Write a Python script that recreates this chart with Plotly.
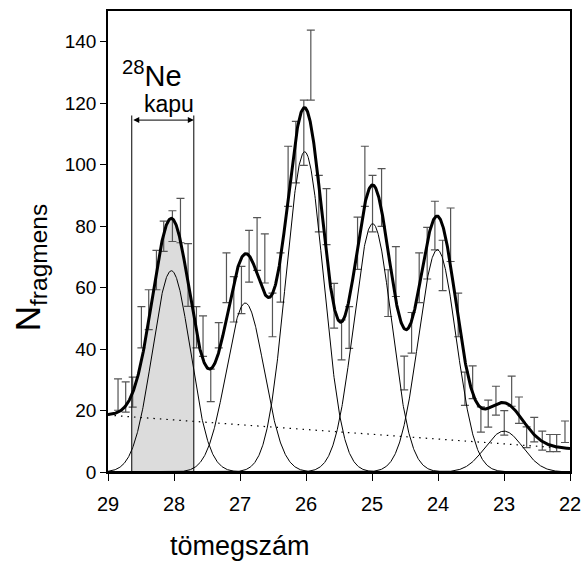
import numpy as np
import plotly.graph_objects as go

# ---- data ----
mass = [28.848, 28.732, 28.626, 28.494, 28.383, 28.266, 28.156, 28.024, 27.902, 27.787,
        27.660, 27.560, 27.443, 27.322, 27.205, 27.094, 26.978, 26.862, 26.741, 26.624,
        26.508, 26.386, 26.271, 26.154, 26.033, 25.927, 25.806, 25.689, 25.574, 25.461,
        25.346, 25.219, 25.108, 24.992, 24.855, 24.755, 24.638, 24.512, 24.400, 24.285,
        24.164, 24.047, 23.930, 23.809, 23.694, 23.592, 23.475, 23.350, 23.239, 23.122,
        22.996, 22.884, 22.773, 22.657, 22.542, 22.420, 22.304, 22.202, 22.076]
counts = [25.2, 24.4, 26.0, 47.1, 52.8, 65.7, 76.7, 80.0, 81.8, 64.1,
          47.1, 44.2, 28.2, 44.5, 63.2, 56.2, 59.2, 70.2, 74.2, 69.5,
          51.1, 63.3, 96.2, 104.1, 110.4, 132.4, 87.3, 83.1, 54.1, 43.0,
          47.0, 74.4, 96.2, 87.3, 89.3, 58.2, 65.2, 32.2, 45.3, 63.2,
          71.2, 80.2, 67.2, 77.2, 51.1, 27.1, 29.2, 17.1, 19.0, 23.2,
          16.0, 26.3, 20.1, 11.3, 13.8, 10.2, 9.4, 9.4, 13.1]
errors = [5.1, 4.9, 4.9, 6.7, 6.5, 6.4, 4.9, 5.0, 7.2, 10.2,
          6.7, 6.6, 5.3, 4.1, 8.1, 7.4, 7.7, 8.4, 8.6, 8.0,
          7.1, 8.0, 9.8, 10.0, 10.6, 11.4, 9.2, 9.1, 7.3, 6.5,
          6.8, 8.5, 9.8, 9.2, 9.4, 7.6, 8.1, 5.5, 6.6, 8.1,
          8.4, 7.9, 8.2, 8.7, 7.1, 5.4, 5.3, 4.1, 4.4, 4.7,
          4.0, 4.9, 4.3, 3.4, 4.0, 3.1, 2.8, 2.8, 3.5]

# fitted peak components
peak_centers = [28.04, 26.92, 26.02, 24.99, 24.01, 23.00]
peak_heights = [65.5, 55.0, 104.2, 80.8, 72.3, 13.3]
peak_sigmas = [0.285, 0.285, 0.285, 0.285, 0.285, 0.285]
bg_x = [29.0, 22.0]
bg_y = [18.5, 7.6]

gate = [28.64, 27.70]
gate_top = 116.0
arrow_y = 114.5

x_ticks = [29, 28, 27, 26, 25, 24, 23, 22]
y_ticks = [0, 20, 40, 60, 80, 100, 120, 140]

FONT = "Liberation Sans, Arial, sans-serif"

# ---- model curves ----
xg = np.linspace(29.0, 22.0, 1401)


def model(x):
    b = np.interp(x, bg_x[::-1], bg_y[::-1])
    cs = [h * np.exp(-(x - c) ** 2 / (2 * s ** 2))
          for c, h, s in zip(peak_centers, peak_heights, peak_sigmas)]
    return b, cs


bg, comps = model(xg)
total = bg + np.sum(comps, axis=0)

fig = go.Figure()

# shaded gate area under the total curve
gx = np.concatenate(([gate[0]], xg[(xg < gate[0]) & (xg > gate[1])], [gate[1]]))
gb, gc = model(gx)
gtot = gb + np.sum(gc, axis=0)
fig.add_trace(go.Scatter(x=gx, y=gtot, mode="lines", fill="tozeroy",
                         fillcolor="#dcdcdc", line=dict(width=0), hoverinfo="skip"))

# error bars
fig.add_trace(go.Scatter(x=mass, y=counts, mode="markers",
                         marker=dict(size=1, color="rgba(0,0,0,0)"),
                         error_y=dict(type="data", array=errors, color="#555555",
                                      thickness=1.2, width=4)))

# background
fig.add_trace(go.Scatter(x=bg_x, y=bg_y, mode="lines",
                         line=dict(color="black", width=1.2, dash="1.5px,5px")))
# components
for comp in comps:
    fig.add_trace(go.Scatter(x=xg, y=comp, mode="lines",
                             line=dict(color="black", width=1)))
# total
fig.add_trace(go.Scatter(x=xg, y=total, mode="lines",
                         line=dict(color="black", width=3)))

# gate lines
for g in gate:
    fig.add_shape(type="line", x0=g, x1=g, y0=0, y1=gate_top, xref="x", yref="y",
                  line=dict(color="black", width=1))

fig.add_annotation(x=gate[1], y=arrow_y, ax=gate[0], ay=arrow_y, xref="x", yref="y",
                   axref="x", ayref="y", text="", showarrow=True, arrowside="end+start",
                   arrowhead=2, arrowsize=1.2, arrowwidth=1, arrowcolor="black",
                   standoff=0, startstandoff=0)
fig.add_annotation(x=28.08, y=119.8, text="kapu", showarrow=False,
                   font=dict(family=FONT, size=23, color="black"), yanchor="middle")
fig.add_annotation(x=28.33, y=129.5, text="<sup>28</sup>Ne", showarrow=False,
                   font=dict(family=FONT, size=29, color="black"), yanchor="middle")

# axis titles (placed as in the reference)
fig.add_annotation(xref="paper", yref="paper", x=0.286, y=-0.161, text="tömegszám",
                   showarrow=False, xanchor="center", yanchor="middle",
                   font=dict(family=FONT, size=27, color="black"))
fig.add_annotation(xref="paper", yref="paper", x=-0.169, y=0.444,
                   text="N<sub>fragmens</sub>", textangle=-90,
                   showarrow=False, xanchor="center", yanchor="middle",
                   font=dict(family=FONT, size=35, color="black"))

fig.update_layout(
    width=582, height=562,
    margin=dict(l=108, r=12, t=11, b=90, autoexpand=False),
    paper_bgcolor="white", plot_bgcolor="white",
    showlegend=False,
    font=dict(family=FONT, color="black"),
)
fig.update_xaxes(range=[29, 22], tickvals=x_ticks, ticktext=[str(t) for t in x_ticks],
                 ticks="outside", ticklen=7, tickwidth=1, tickcolor="black",
                 showline=True, linecolor="black", linewidth=1.5, mirror=True,
                 showgrid=False, zeroline=False, automargin=False,
                 ticklabelstandoff=6,
                 tickfont=dict(family=FONT, size=20))
fig.update_yaxes(range=[0, 150], tickvals=y_ticks, ticktext=[str(t) for t in y_ticks],
                 ticks="outside", ticklen=6, tickwidth=1, tickcolor="black",
                 showline=True, linecolor="black", linewidth=1.5, mirror=True,
                 showgrid=False, zeroline=False, automargin=False,
                 tickfont=dict(family=FONT, size=19))

fig.write_html("out.html")
